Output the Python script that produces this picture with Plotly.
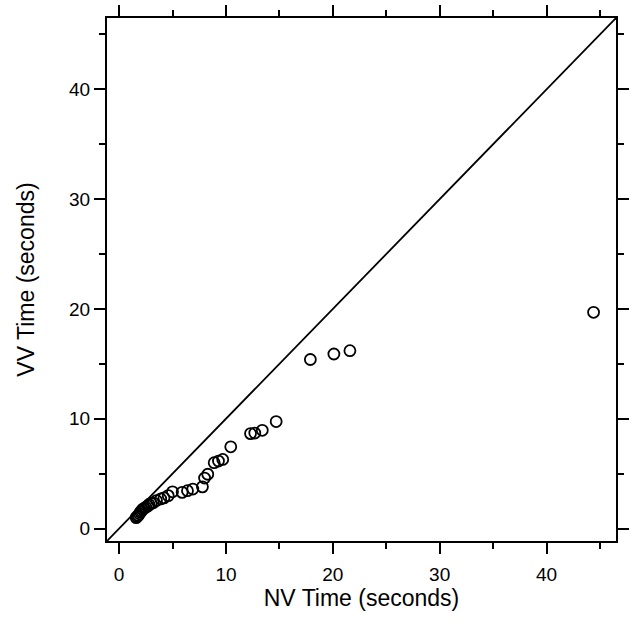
import plotly.graph_objects as go

nv_time = [1.6, 1.7, 1.8, 1.9, 2.0, 2.1, 2.2, 2.35, 2.5, 2.7, 2.8, 3.0, 3.2, 3.5,
           3.9, 4.2, 4.6, 5.0, 5.9, 6.4, 6.9, 7.8, 8.0, 8.3, 8.9, 9.3, 9.7, 10.45,
           12.3, 12.7, 13.4, 14.7, 17.9, 20.1, 21.6, 44.4]
vv_time = [1.0, 1.1, 1.2, 1.35, 1.5, 1.6, 1.75, 1.85, 1.95, 2.05, 2.2, 2.3, 2.35, 2.55,
           2.7, 2.8, 3.0, 3.35, 3.3, 3.45, 3.6, 3.8, 4.6, 4.95, 6.0, 6.15, 6.3, 7.45,
           8.65, 8.7, 8.95, 9.75, 15.4, 15.9, 16.2, 19.7]
ref_line = [-5, 60]
axis_range = [-1.13, 46.5]
tick_vals = [0, 10, 20, 30, 40]
tick_text = ["0", "10", "20", "30", "40"]

font_fam = "Liberation Sans, Arial, Helvetica, sans-serif"

fig = go.Figure()
fig.add_trace(go.Scatter(x=ref_line, y=ref_line, mode="lines",
                         line=dict(color="black", width=1.8), hoverinfo="skip"))
fig.add_trace(go.Scatter(x=nv_time, y=vv_time, mode="markers",
                         marker=dict(symbol="circle-open", size=11, color="black",
                                     line=dict(width=1.8, color="black"))))

axis_common = dict(
    range=axis_range, showline=True, linecolor="black", linewidth=2,
    mirror="ticks", ticks="outside", ticklen=11, tickwidth=2, tickcolor="black",
    tickvals=tick_vals, ticktext=tick_text, showgrid=False, zeroline=False,
    tickfont=dict(family=font_fam, size=19, color="black"),
    minor=dict(dtick=5, tick0=5, ticks="outside", ticklen=6, tickwidth=2, tickcolor="black", showgrid=False),
)

fig.update_layout(
    width=634, height=636,
    margin=dict(l=107, r=5, t=18, b=95),
    plot_bgcolor="white", paper_bgcolor="white",
    showlegend=False,
    xaxis=dict(axis_common, ticklabelstandoff=4,
               title=dict(text="NV Time (seconds)", standoff=6,
                          font=dict(family=font_fam, size=23, color="black"))),
    yaxis=dict(axis_common, title=dict(text="VV Time (seconds)", standoff=28,
               font=dict(family=font_fam, size=23, color="black"))),
)

fig.write_html("out.html")
